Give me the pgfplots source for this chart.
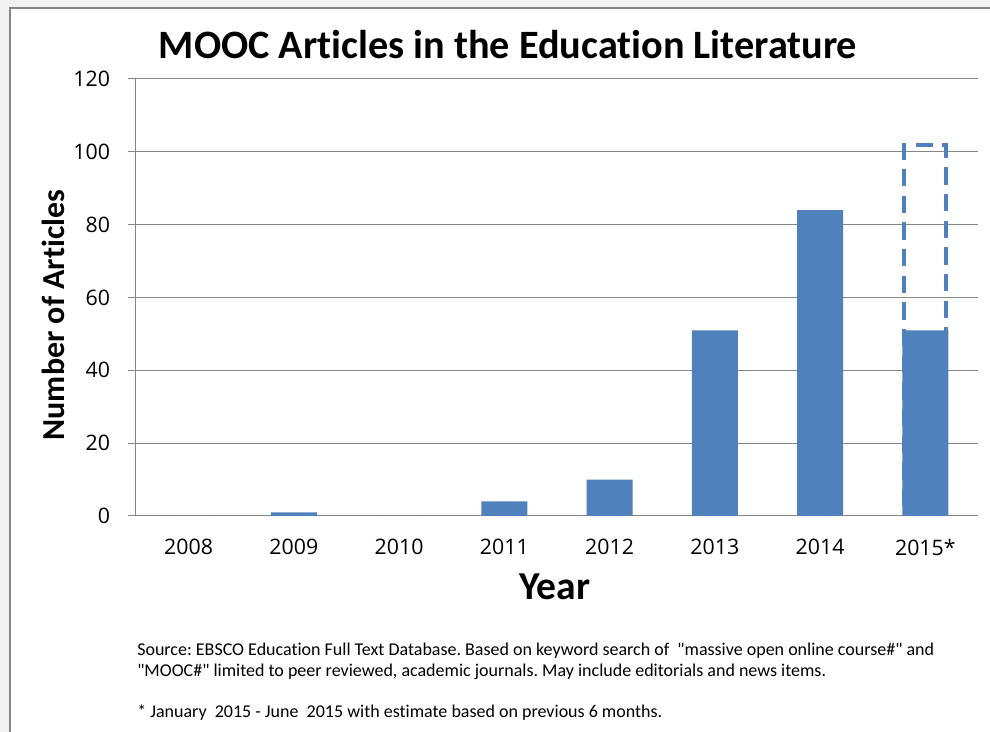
\documentclass[border=0pt]{standalone}
\usepackage{fontspec}
\setmainfont{Carlito}[Ligatures={TeXOff,NoCommon}]
\newfontfamily\tickfont{Open Sans}
\usepackage{pgfplots}
\pgfplotsset{compat=1.18}
\definecolor{barblue}{HTML}{4F81BD}
\definecolor{gridgray}{HTML}{868686}
\newcommand\q{\symbol{34}}

\begin{document}
\frenchspacing
\begin{tikzpicture}
\useasboundingbox (0,0) rectangle (742.5pt,549pt);
% slide frame
\fill[black!5] (0,0) rectangle (742.5pt,549pt);
\draw[gridgray, line width=1.5pt, fill=white] (7.5pt,-5pt) rectangle (750pt,543pt);

\begin{axis}[
  at={(102pt,162pt)}, anchor=south west,
  scale only axis, width=631.5pt, height=327.75pt,
  xmin=-0.5, xmax=7.5, ymin=0, ymax=120,
  axis x line*=bottom, axis y line*=left,
  axis line style={gridgray, line width=0.75pt},
  ybar, bar shift=0pt,
  xtick={0,...,7},
  xticklabels={2008,2009,2010,2011,2012,2013,2014,2015*},
  x tick style={draw=none},
  extra x ticks={-0.5,0.5,...,7.5},
  extra x tick labels={},
  extra x tick style={tick style={draw=gridgray, line width=0.75pt}, major tick length=6pt},
  ytick={0,20,...,120},
  y tick style={draw=gridgray, line width=0.75pt},
  tick align=outside, major tick length=6pt,
  ymajorgrids, grid style={gridgray, line width=0.75pt},
  ticklabel style={font=\tickfont\fontsize{16}{18}\selectfont},
  /pgf/number format/assume math mode=true,
  xticklabel style={yshift=-8pt},
  yticklabel style={xshift=-10pt},
]
% estimate for the whole of 2015 (dashed outline)
\addplot[draw=barblue, fill=none, line width=3pt, bar width=31.5pt,
  dash pattern=on 13pt off 7pt] coordinates {
  (7,102)
};
% articles per year
\addplot[fill=barblue, draw=none, bar width=34.5pt] coordinates {
  (0,0) (1,1) (2,0) (3,4) (4,10) (5,51) (6,84) (7,51)
};
\end{axis}

\node[font=\bfseries\fontsize{30.2}{34}\selectfont] at (381pt,515.25pt) {MOOC Articles in the Education Literature};
\node[font=\bfseries\fontsize{24}{28}\selectfont, rotate=90] at (39.75pt,312.75pt) {Number of Articles};
\node[font=\bfseries\fontsize{29.7}{34}\selectfont] at (416.25pt,108.75pt) {Year};

\begin{scope}[every node/.style={anchor=base west, inner sep=0pt, font=\fontsize{13.5}{16}\selectfont}]
\node at (102.75pt,57pt) {Source: EBSCO Education Full Text Database. Based on keyword search of~ \q massive open online course\#\q{} and};
\node at (102.75pt,41.25pt) {\q MOOC\#\q{} limited to peer reviewed, academic journals. May include editorials and news items.};
\node at (102.75pt,10.5pt) {* January~ 2015 - June~ 2015 with estimate based on previous 6 months.};
\end{scope}
\end{tikzpicture}
\end{document}
